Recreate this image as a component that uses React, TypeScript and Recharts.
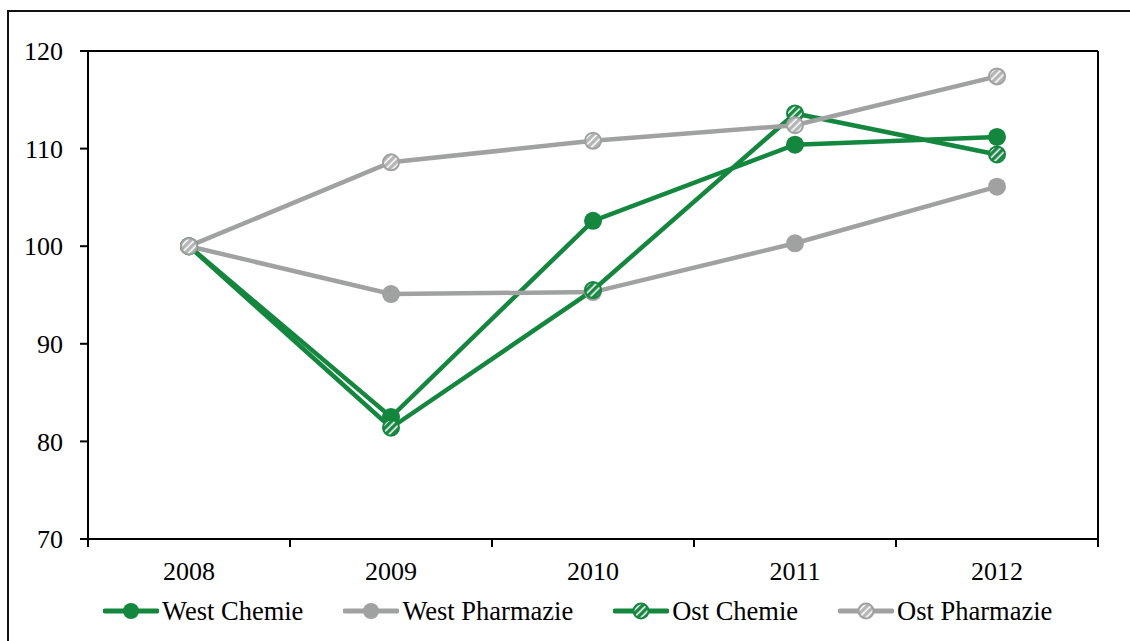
import React from 'react';
import { LineChart, Line, XAxis, YAxis, CartesianGrid } from 'recharts';

const years = ['2008', '2009', '2010', '2011', '2012'];
const westChemie = [100, 82.5, 102.6, 110.4, 111.2];
const westPharmazie = [100, 95.1, 95.3, 100.3, 106.1];
const ostChemie = [100, 81.4, 95.5, 113.6, 109.4];
const ostPharmazie = [100, 108.6, 110.8, 112.4, 117.4];
const yTicks = [70, 80, 90, 100, 110, 120];

const data = years.map((year, i) => ({
  year,
  westChemie: westChemie[i],
  westPharmazie: westPharmazie[i],
  ostChemie: ostChemie[i],
  ostPharmazie: ostPharmazie[i],
}));

const GREEN = '#14873f';
const GREY = '#a0a1a1';
const FONT = '"Liberation Serif", "Times New Roman", serif';

const series = [
  { key: 'westChemie', name: 'West Chemie', color: GREEN, pattern: null },
  { key: 'westPharmazie', name: 'West Pharmazie', color: GREY, pattern: null },
  { key: 'ostChemie', name: 'Ost Chemie', color: GREEN, pattern: 'patGreen' },
  { key: 'ostPharmazie', name: 'Ost Pharmazie', color: GREY, pattern: 'patGrey' },
];

// plot box in page pixels
const PLOT_LEFT = 88;
const PLOT_RIGHT = 1098;
const PLOT_TOP = 51;
const PLOT_BOTTOM = 539;
const BAND = (PLOT_RIGHT - PLOT_LEFT) / years.length;

const XTick = (props: any) => {
  const { x, payload, index } = props;
  const half = BAND / 2;
  return (
    <g>
      <line x1={x - half} x2={x - half} y1={PLOT_BOTTOM} y2={PLOT_BOTTOM + 8} stroke="#000" strokeWidth={2} />
      {index === years.length - 1 && (
        <line x1={x + half} x2={x + half} y1={PLOT_BOTTOM} y2={PLOT_BOTTOM + 8} stroke="#000" strokeWidth={2} />
      )}
      <text x={x} y={PLOT_BOTTOM + 41} textAnchor="middle" fill="#000" fontSize={26} fontFamily={FONT}>
        {payload.value}
      </text>
    </g>
  );
};

const makeDot = (color: string, pattern: string | null) => (props: any) => {
  const { cx, cy, index } = props;
  if (cx == null || cy == null) return <g key={index} />;
  if (!pattern) return <circle key={index} cx={cx} cy={cy} r={9} fill={color} stroke="none" />;
  return <circle key={index} cx={cx} cy={cy} r={8} fill={`url(#${pattern})`} stroke={color} strokeWidth={2} />;
};

const LegendIcon = ({ color, pattern }: { color: string; pattern: string | null }) => (
  <svg width={56} height={22} style={{ display: 'block' }}>
    <line x1={2} x2={54} y1={11} y2={11} stroke={color} strokeWidth={5} strokeLinecap="round" />
    {pattern ? (
      <circle cx={28} cy={11} r={7.5} fill={`url(#${pattern})`} stroke={color} strokeWidth={2} />
    ) : (
      <circle cx={28} cy={11} r={8} fill={color} />
    )}
  </svg>
);

export default function App() {
  return (
    <div style={{ position: 'absolute', left: 0, top: 0, width: 1130, height: 641, overflow: 'hidden', background: '#fff', fontFamily: FONT }}>
      <svg width={0} height={0} style={{ position: 'absolute' }}>
        <defs>
          <pattern id="patGreen" patternUnits="userSpaceOnUse" width={5} height={5} patternTransform="rotate(-45)">
            <rect width={5} height={5} fill={GREEN} />
            <rect y={1.5} width={5} height={1.6} fill="#fff" />
          </pattern>
          <pattern id="patGrey" patternUnits="userSpaceOnUse" width={5} height={5} patternTransform="rotate(-45)">
            <rect width={5} height={5} fill="#b3b4b4" />
            <rect y={1.5} width={5} height={1.6} fill="#fff" />
          </pattern>
        </defs>
      </svg>
      <div style={{ position: 'absolute', left: 7, top: 10, width: 1300, height: 800, borderLeft: '2px solid #111', borderTop: '2px solid #111' }} />
      <div style={{ position: 'absolute', left: 0, top: 0 }}>
        <LineChart
          width={1130}
          height={641}
          data={data}
          margin={{ top: PLOT_TOP, right: 1130 - PLOT_RIGHT - 1, bottom: 641 - PLOT_BOTTOM - 30, left: PLOT_LEFT - 60 }}
        >
          <CartesianGrid vertical={false} stroke="#000" strokeWidth={2} />
          <XAxis
            dataKey="year"
            scale="band"
            axisLine={{ stroke: '#000', strokeWidth: 2 }}
            tickLine={false}
            tick={<XTick />}
            height={30}
            interval={0}
          />
          <YAxis
            yAxisId="left"
            domain={[70, 120]}
            ticks={yTicks}
            width={60}
            tickSize={8}
            tickMargin={17}
            axisLine={{ stroke: '#000', strokeWidth: 2 }}
            tickLine={{ stroke: '#000', strokeWidth: 2 }}
            tick={{ fill: '#000', fontSize: 26, fontFamily: FONT }}
          />
          <YAxis
            yAxisId="right"
            orientation="right"
            domain={[70, 120]}
            width={1}
            tick={false}
            tickLine={false}
            axisLine={{ stroke: '#000', strokeWidth: 2 }}
          />
          {series.map((s) => (
            <Line
              key={s.key}
              yAxisId="left"
              type="linear"
              dataKey={s.key}
              name={s.name}
              stroke={s.color}
              strokeWidth={4.5}
              dot={makeDot(s.color, s.pattern)}
              activeDot={false}
              isAnimationActive={false}
            />
          ))}
        </LineChart>
      </div>
      <div style={{ position: 'absolute', left: 103, top: 597, height: 28, display: 'flex', alignItems: 'center', fontSize: 26.5, color: '#000' }}>
        {series.map((s) => (
          <div key={s.key} style={{ display: 'flex', alignItems: 'center', marginRight: 40 }}>
            <LegendIcon color={s.color} pattern={s.pattern} />
            <span style={{ marginLeft: 3, whiteSpace: 'nowrap' }}>{s.name}</span>
          </div>
        ))}
      </div>
    </div>
  );
}
